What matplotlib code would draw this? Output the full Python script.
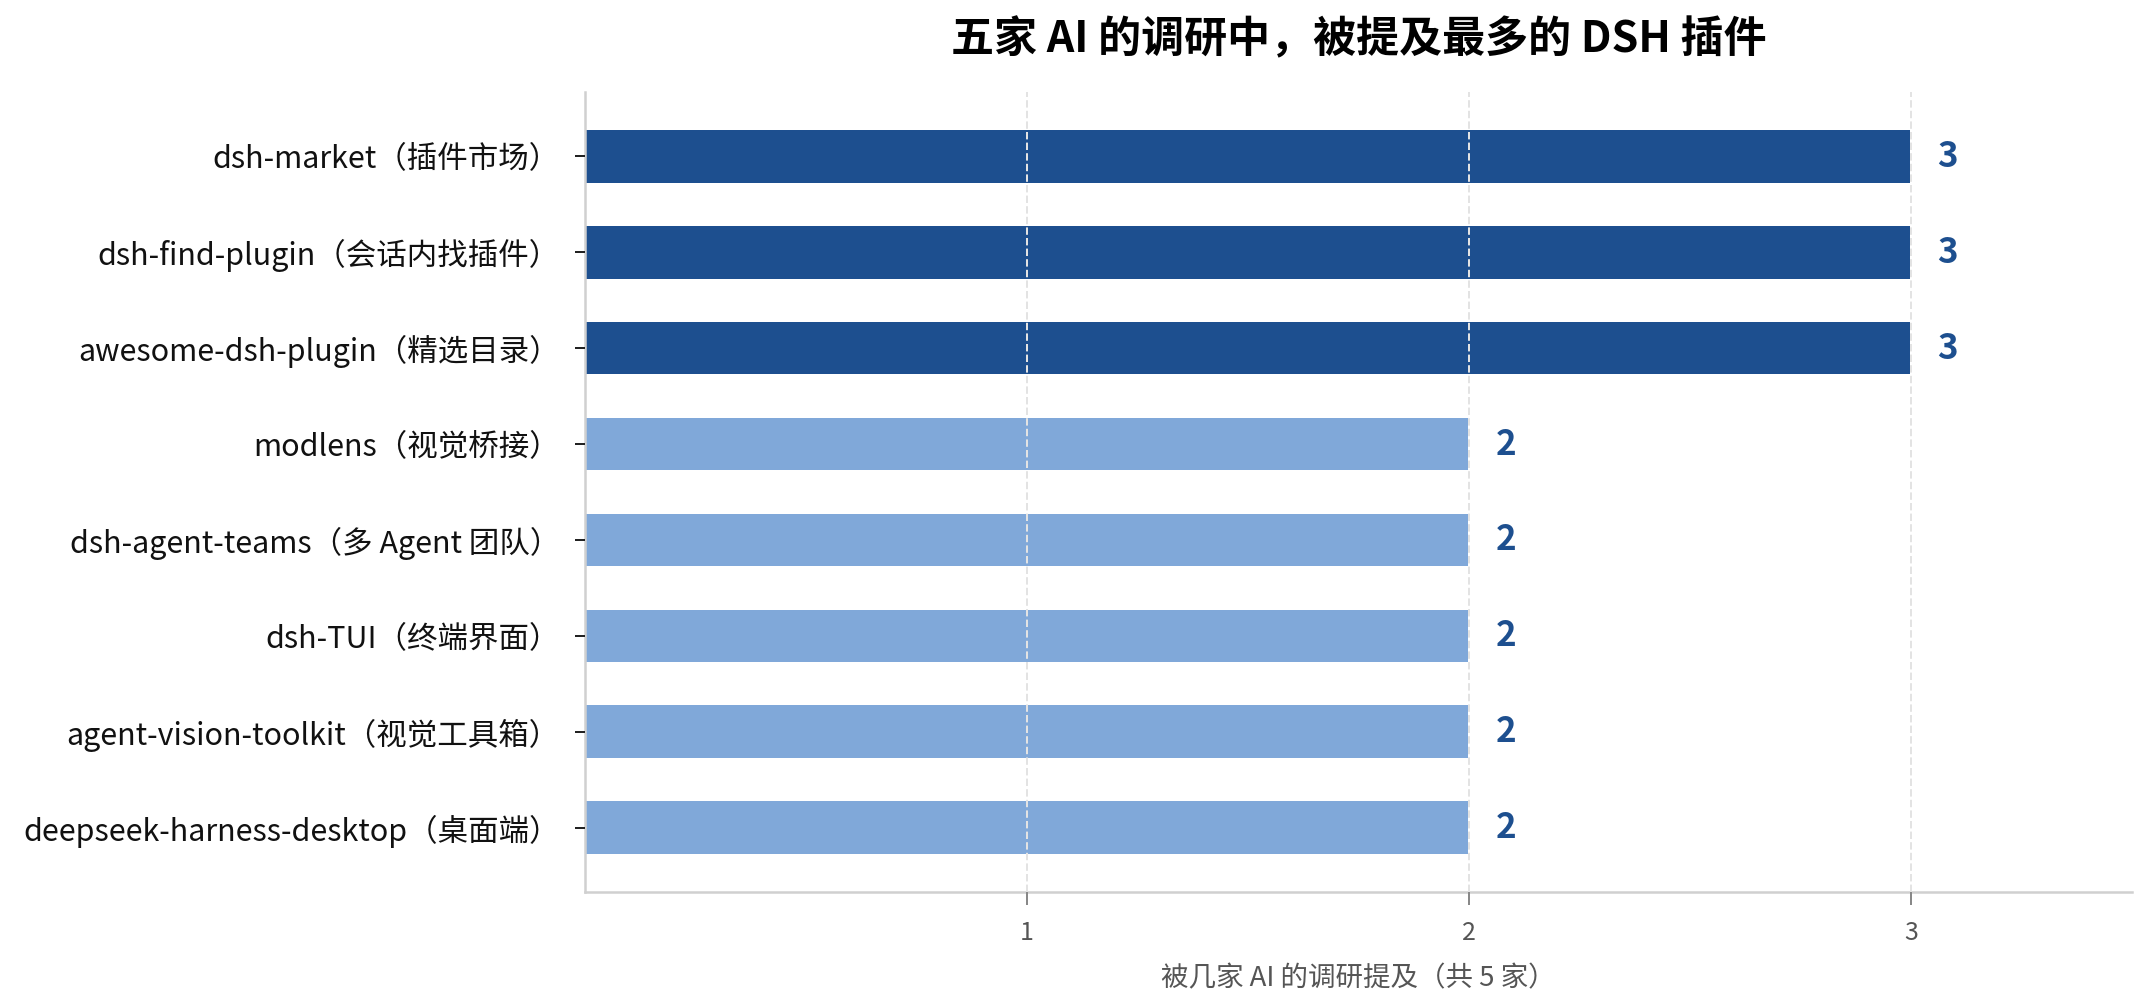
import matplotlib
matplotlib.use("Agg")
import matplotlib.pyplot as plt

plt.rcParams['font.family'] = ['Noto Sans CJK SC', 'DejaVu Sans']

plugins = [
    "dsh-market（插件市场）",
    "dsh-find-plugin（会话内找插件）",
    "awesome-dsh-plugin（精选目录）",
    "modlens（视觉桥接）",
    "dsh-agent-teams（多 Agent 团队）",
    "dsh-TUI（终端界面）",
    "agent-vision-toolkit（视觉工具箱）",
    "deepseek-harness-desktop（桌面端）",
]
mentions = [3, 3, 3, 2, 2, 2, 2, 2]
xticks = [1, 2, 3]

title = "五家 AI 的调研中，被提及最多的 DSH 插件"
xlabel = "被几家 AI 的调研提及（共 5 家）"

dark = "#1d4f8f"
light = "#80a8d9"

DPI = 180
fig = plt.figure(figsize=(2153 / DPI, 999 / DPI), dpi=DPI)
ax = fig.add_axes([0.2717, 0.1071, 0.9902 - 0.2717, 0.9079 - 0.1071])

colors = [dark if v >= 3 else light for v in mentions]
ypos = list(range(len(plugins)))
ax.barh(ypos, mentions, height=0.57, color=colors, edgecolor="white",
        linewidth=0.8, zorder=2)

for y, v in zip(ypos, mentions):
    ax.text(v + 0.06, y, str(v), va="center", ha="left", fontsize=14,
            fontweight="bold", color=dark, zorder=4)

ax.set_yticks(ypos)
ax.set_yticklabels(plugins, fontsize=12.2, color="#111111")
ax.invert_yaxis()
ax.set_ylim(len(plugins) - 1 + 0.67, -0.67)

ax.set_xlim(0, 3.5)
ax.set_xticks(xticks)
ax.set_xticklabels([str(t) for t in xticks], fontsize=10, color="#555555")
ax.set_xlabel(xlabel, fontsize=11, color="#555555", labelpad=8)

ax.grid(axis="x", linestyle="--", color="#e3e3e3", linewidth=0.8, zorder=3)
ax.set_axisbelow(False)

for s in ["top", "right"]:
    ax.spines[s].set_visible(False)
for s in ["left", "bottom"]:
    ax.spines[s].set_color("#d0d0d0")
    ax.spines[s].set_linewidth(1.0)

ax.tick_params(axis="y", length=4, color="#222222", pad=6)
ax.tick_params(axis="x", length=5, color="#888888", pad=6)

ax.set_title(title, fontsize=17.2, fontweight="bold", pad=16, color="#000000")

fig.savefig("out.png", dpi=DPI)
